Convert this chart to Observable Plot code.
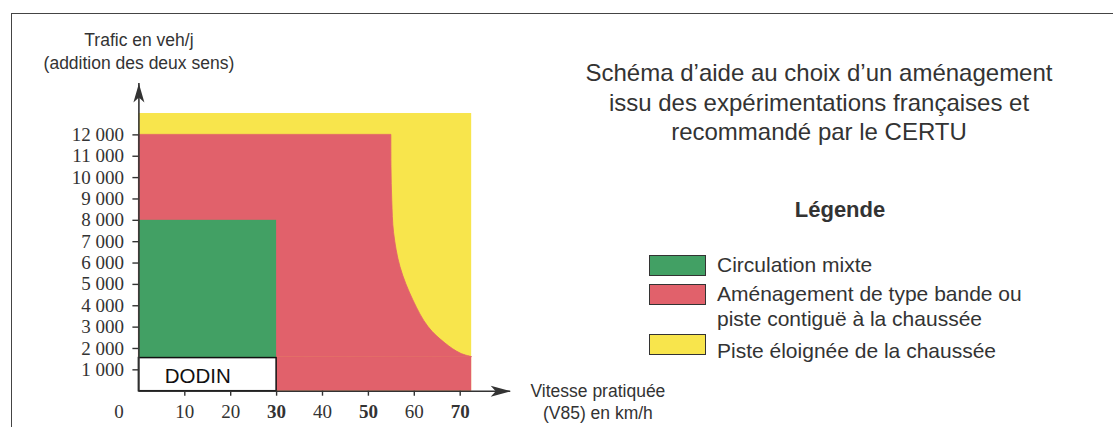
<!DOCTYPE html>
<html><head><meta charset="utf-8">
<script src="https://cdn.jsdelivr.net/npm/d3@7"></script>
<script src="https://cdn.jsdelivr.net/npm/@observablehq/plot@0.6"></script>
<style>
html,body{margin:0;padding:0;background:#fff;overflow:hidden;width:1113px;height:427px;}
#wrap{position:relative;width:1113px;height:427px;font-family:"Liberation Sans",Arial,sans-serif;color:#333;}
#chart{position:absolute;left:0;top:0;}
.frame{position:absolute;left:11px;top:13px;width:1200px;height:600px;border:1.6px solid #444;box-sizing:border-box;}
.title{position:absolute;left:519px;width:600px;top:58px;text-align:center;font-size:24px;line-height:29.5px;color:#333;}
.legtitle{position:absolute;left:740px;width:200px;top:197px;text-align:center;font-size:22px;line-height:26px;font-weight:bold;color:#333;}
.sw{position:absolute;left:649px;width:57px;height:21px;border:1.5px solid #333;box-sizing:border-box;}
.lt{position:absolute;left:717px;font-size:21px;line-height:25px;color:#333;white-space:nowrap;}
</style>
</head><body>
<div id="wrap">
  <div class="frame"></div>
  <div id="chart"></div>
  <div class="title" id="title"></div>
  <div class="legtitle" id="legtitle"></div>
  <div id="legend"></div>
</div>
<script>
// ---- data ----
const titleLines = ["Schéma d’aide au choix d’un aménagement", "issu des expérimentations françaises et", "recommandé par le CERTU"];
const legendTitle = "Légende";
const zoneLabels = ["Circulation mixte", "Aménagement de type bande ou\npiste contiguë à la chaussée", "Piste éloignée de la chaussée"];
const zoneColors = ["#42a064", "#e1616b", "#f8e54c"];
const yTitle = "Trafic en veh/j\n(addition des deux sens)";
const xTitle = "Vitesse pratiquée\n(V85) en km/h";

const speedTicks = [10, 20, 40, 60];
const speedTicksBold = [30, 50, 70];
const originTick = [0];
const trafficTicks = [1000, 2000, 3000, 4000, 5000, 6000, 7000, 8000, 9000, 10000, 11000, 12000];
const trafficLabels = ["1 000", "2 000", "3 000", "4 000", "5 000", "6 000", "7 000", "8 000", "9 000", "10 000", "11 000", "12 000"];

// zones (speed km/h, traffic veh/j)
const yellowSpeed = [0, 72.5];
const yellowTraffic = [0, 13000];
const redBaseSpeed = [0, 72.5];
const redBaseTraffic = [0, 1600];
// red / yellow boundary (traffic -> speed)
const boundaryTraffic = [1600, 1760, 2230, 3000, 4250, 5800, 7400, 8900, 10500, 12000];
const boundarySpeed = [72.5, 70.1, 66.8, 63.1, 59.8, 57.0, 55.6, 55.2, 55.03, 55];
const greenSpeed = [0, 30];
const greenTraffic = [0, 8000];
const dodinSpeed = [0, 30];
const dodinTraffic = [0, 1550];
const dodinLabel = "DODIN";
const axisSpeedEnd = 81;
const axisTrafficEnd = 14400;

// ---- chart ----
const axisColor = "#333";
const arrowUp = {draw(ctx) { ctx.moveTo(0, 0); ctx.lineTo(5.5, 19); ctx.lineTo(0, 14); ctx.lineTo(-5.5, 19); ctx.closePath(); }};
const arrowRight = {draw(ctx) { ctx.moveTo(0, 0); ctx.lineTo(-20, 5.5); ctx.lineTo(-15, 0); ctx.lineTo(-20, -5.5); ctx.closePath(); }};

const boundaryPts = boundaryTraffic.map((t, i) => ({t, s: boundarySpeed[i]}));
const rectOf = (xs, ys) => [{x1: xs[0], x2: xs[1], y1: ys[0], y2: ys[1]}];

const serif = "Liberation Serif, Times New Roman, serif";
const plot = Plot.plot({
  width: 1113,
  height: 427,
  marginLeft: 138.4,
  marginRight: 515.6,
  marginTop: 70.3,
  marginBottom: 36.3,
  x: {domain: [0, 100]},
  y: {domain: [0, 15000]},
  style: {fontFamily: "Liberation Sans, Arial, sans-serif", color: axisColor, background: "transparent", overflow: "visible"},
  marks: [
    Plot.rect(rectOf(yellowSpeed, yellowTraffic), {x1: "x1", x2: "x2", y1: "y1", y2: "y2", fill: zoneColors[2]}),
    Plot.rect(rectOf(redBaseSpeed, redBaseTraffic), {x1: "x1", x2: "x2", y1: "y1", y2: "y2", fill: zoneColors[1]}),
    Plot.areaX(boundaryPts, {y: "t", x1: 0, x2: "s", fill: zoneColors[1], stroke: zoneColors[1], strokeWidth: 0.8, curve: "catmull-rom"}),
    Plot.rect(rectOf(greenSpeed, greenTraffic), {x1: "x1", x2: "x2", y1: "y1", y2: "y2", fill: zoneColors[0]}),
    Plot.rect(rectOf(dodinSpeed, dodinTraffic), {x1: "x1", x2: "x2", y1: "y1", y2: "y2", fill: "white", stroke: "#111", strokeWidth: 1.5}),
    Plot.text(rectOf(dodinSpeed, dodinTraffic), {x: d => (d.x1 + d.x2) / 2, y: d => (d.y1 + d.y2) / 2, text: () => dodinLabel, dx: -10, dy: 2, fontSize: 20.5, fill: "#111"}),
    // axis lines
    Plot.ruleX([0], {y1: 0, y2: axisTrafficEnd, stroke: axisColor, strokeWidth: 1.6}),
    Plot.ruleY([0], {x1: 0, x2: axisSpeedEnd, stroke: axisColor, strokeWidth: 1.6}),
    Plot.dot([0], {x: 0, y: axisTrafficEnd, symbol: arrowUp, fill: axisColor, stroke: "none"}),
    Plot.dot([0], {x: axisSpeedEnd, y: 0, symbol: arrowRight, fill: axisColor, stroke: "none"}),
    // axes
    Plot.axisY({ticks: trafficTicks, tickFormat: d => trafficLabels[trafficTicks.indexOf(d)], tickSize: 6, tickPadding: 9, fontSize: 19, fontFamily: serif, label: null, color: axisColor, strokeWidth: 1.4}),
    Plot.axisX({ticks: speedTicks, tickSize: 5, tickPadding: 8, fontSize: 19, fontFamily: serif, label: null, color: axisColor, strokeWidth: 1.4}),
    Plot.axisX({ticks: speedTicksBold, tickSize: 5, tickPadding: 8, fontSize: 19, fontFamily: serif, fontWeight: "bold", label: null, color: axisColor, strokeWidth: 1.4}),
    Plot.axisX({ticks: originTick, tickSize: 0, tickPadding: 13, dx: -20, fontSize: 19, fontFamily: serif, label: null, color: axisColor}),
    // axis titles
    Plot.text([yTitle], {text: d => d, frameAnchor: "top-left", textAnchor: "middle", lineAnchor: "middle", dy: -21, fontSize: 17.5, lineHeight: 1.36, fill: axisColor}),
    Plot.text([xTitle], {text: d => d, frameAnchor: "bottom-right", textAnchor: "middle", lineAnchor: "middle", dy: 10, fontSize: 17.5, lineHeight: 1.24, fill: axisColor})
  ]
});
document.getElementById("chart").appendChild(plot);

// ---- title & legend ----
document.getElementById("title").innerHTML = titleLines.join("<br>");
document.getElementById("legtitle").textContent = legendTitle;
const swTops = [255, 284, 334];
const txtTops = [252, 280.5, 337.5];
const leg = document.getElementById("legend");
zoneLabels.forEach((lab, i) => {
  const sw = document.createElement("div");
  sw.className = "sw";
  sw.style.top = swTops[i] + "px";
  sw.style.background = zoneColors[i];
  leg.appendChild(sw);
  const t = document.createElement("div");
  t.className = "lt";
  t.style.top = txtTops[i] + "px";
  t.innerHTML = lab.replace("\n", "<br>");
  leg.appendChild(t);
});
</script>
</body></html>
